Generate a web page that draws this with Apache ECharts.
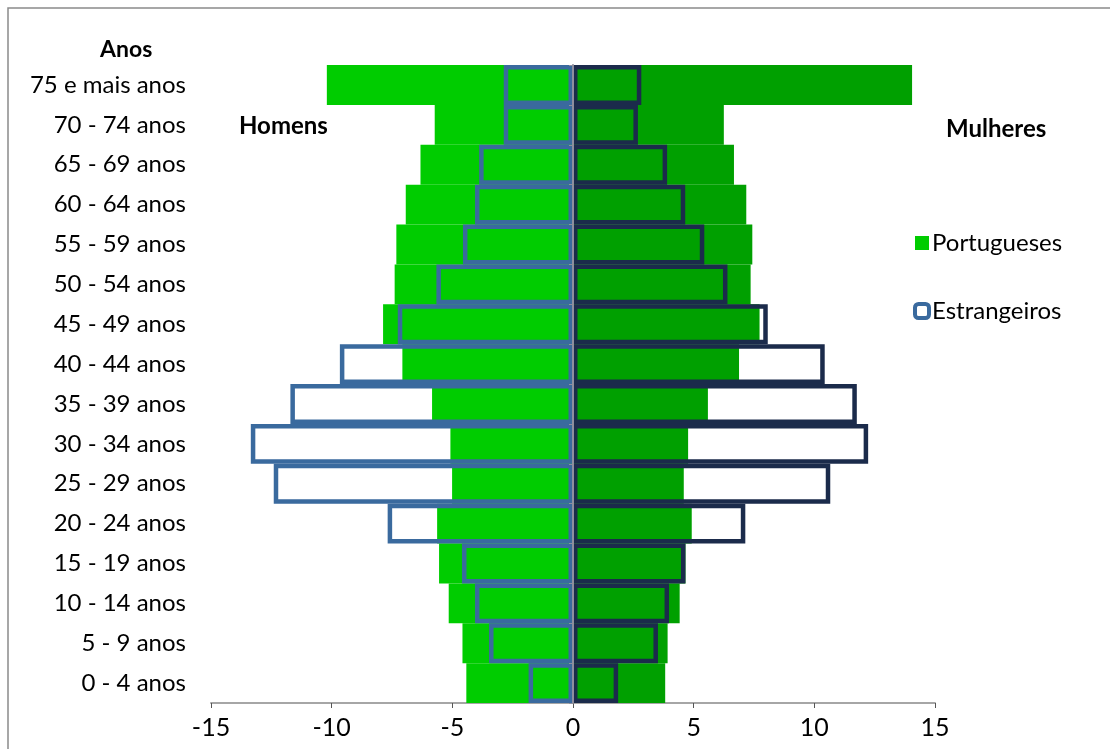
<!DOCTYPE html>
<html>
<head>
<meta charset="utf-8">
<script src="https://cdn.jsdelivr.net/npm/echarts@6/dist/echarts.min.js"></script>
<style>
  html, body { margin: 0; padding: 0; background: #fff; }
  #container { width: 1110px; height: 749px; }
</style>
</head>
<body>
<div id="container"></div>
<script>
// faixas etarias, de baixo para cima
var ageGroups = ['0 - 4 anos', '5 - 9 anos', '10 - 14 anos', '15 - 19 anos', '20 - 24 anos',
  '25 - 29 anos', '30 - 34 anos', '35 - 39 anos', '40 - 44 anos', '45 - 49 anos',
  '50 - 54 anos', '55 - 59 anos', '60 - 64 anos', '65 - 69 anos', '70 - 74 anos', '75 e mais anos'];

// homens (negativos)
var ptHomens = [-4.42, -4.58, -5.15, -5.55, -5.63, -5.01, -5.08, -5.84, -7.07, -7.87, -7.39, -7.32, -6.93, -6.32, -5.73, -10.2];
var estHomens = [-1.84, -3.48, -4.06, -4.60, -7.68, -12.40, -13.35, -11.71, -9.66, -7.26, -5.66, -4.56, -4.06, -3.89, -2.87, -2.87];

// mulheres (positivos)
var ptMulheres = [3.82, 3.92, 4.42, 4.66, 4.92, 4.59, 4.77, 5.59, 6.88, 7.73, 7.36, 7.43, 7.18, 6.67, 6.25, 14.05];
var estMulheres = [1.87, 3.52, 3.98, 4.66, 7.14, 10.66, 12.23, 11.76, 10.43, 8.07, 6.40, 5.44, 4.65, 3.90, 2.69, 2.83];

var xTicks = { min: -15, max: 15, interval: 5 };

var font = 'Lato, "Open Sans", sans-serif';

var myChart = echarts.init(document.getElementById('container'));
var option = {
  animation: false,
  backgroundColor: '#fff',
  textStyle: { fontFamily: font },
  graphic: [{
    type: 'rect',
    shape: { x: 8, y: 8, width: 1200, height: 800 },
    style: { fill: 'none', stroke: '#8a8a8a', lineWidth: 1.5 },
    silent: true
  }],
  title: [
    { text: 'Anos', left: 95, top: 33, textStyle: { fontSize: 23, fontWeight: 'bold', color: '#000', fontFamily: font } },
    { text: 'Homens', left: 234, top: 109, textStyle: { fontSize: 24, fontWeight: 'bold', color: '#000', fontFamily: font } },
    { text: 'Mulheres', left: 941, top: 112, textStyle: { fontSize: 24, fontWeight: 'bold', color: '#000', fontFamily: font } }
  ],
  legend: {
    orient: 'vertical',
    left: 908,
    top: 226,
    itemGap: 44,
    itemWidth: 14,
    itemHeight: 14,
    textStyle: { fontSize: 24, color: '#000', fontFamily: font, padding: [0, 0, 0, -2] },
    data: [
      { name: 'Portugueses', icon: 'rect', itemStyle: { color: '#00CC00', borderWidth: 0 } },
      { name: 'Estrangeiros', icon: 'roundRect', itemStyle: { color: '#fff', borderColor: '#3A6A9E', borderWidth: 4 } }
    ]
  },
  grid: { left: 211, right: 175, top: 65, bottom: 46, containLabel: false },
  xAxis: {
    type: 'value',
    min: xTicks.min,
    max: xTicks.max,
    interval: xTicks.interval,
    splitLine: { show: false },
    axisLine: { show: true, onZero: false, lineStyle: { color: '#A6A6A6', width: 2 } },
    axisTick: { show: true, length: 5, lineStyle: { color: '#555' } },
    axisLabel: { fontSize: 25, color: '#000', margin: 12, fontFamily: font }
  },
  yAxis: [{
    type: 'category',
    data: ageGroups,
    axisLine: { show: false, onZero: false },
    axisTick: { show: false },
    axisLabel: { fontSize: 24, color: '#000', margin: 25, fontFamily: font }
  }, {
    type: 'category',
    data: ageGroups,
    position: 'left',
    axisLine: { show: true, onZero: true, lineStyle: { color: '#8E8E9E', width: 2 } },
    axisTick: { show: true, length: 4, lineStyle: { color: '#8E8E9E' } },
    axisLabel: { show: false },
    z: 10
  }],
  series: [
    {
      name: 'Portugueses', type: 'bar', data: ptHomens,
      barWidth: '100%', barGap: '-100%', barCategoryGap: 0,
      itemStyle: { color: '#00CC00' }, z: 2
    },
    {
      name: 'Portugueses', type: 'bar', data: ptMulheres,
      barWidth: '100%', barGap: '-100%',
      itemStyle: { color: '#00A000' }, z: 2
    },
    {
      name: 'Estrangeiros', type: 'bar', data: estHomens,
      barWidth: '100%', barGap: '-100%',
      itemStyle: { color: 'transparent', borderColor: '#3A6A9E', borderWidth: 4.5 }, z: 3
    },
    {
      name: 'Estrangeiros', type: 'bar', data: estMulheres,
      barWidth: '100%', barGap: '-100%',
      itemStyle: { color: 'transparent', borderColor: '#1B2B4B', borderWidth: 4.5 }, z: 3
    }
  ]
};
myChart.setOption(option);
</script>
</body>
</html>
